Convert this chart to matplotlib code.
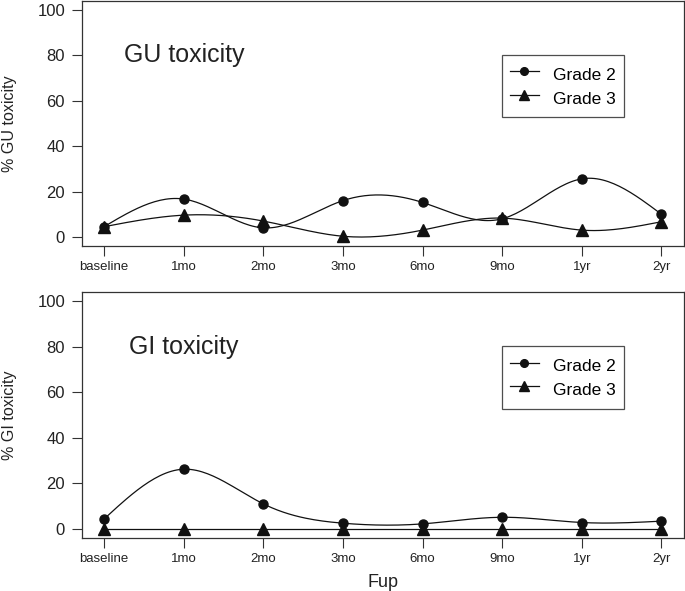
import numpy as np
import matplotlib
matplotlib.use('Agg')
import matplotlib.pyplot as plt

plt.rcParams['font.family'] = ['Liberation Sans', 'DejaVu Sans']

# 随访时间点
timepoints = ['baseline', '1mo', '2mo', '3mo', '6mo', '9mo', '1yr', '2yr']

# GU 毒性 (%)
gu_grade2 = [4.5, 16.7, 4.0, 16.0, 15.2, 8.0, 25.6, 10.0]
gu_grade3 = [4.5, 9.6, 7.0, 0.3, 3.0, 8.3, 3.0, 6.7]

# GI 毒性 (%)
gi_grade2 = [4.3, 26.2, 11.0, 2.5, 2.2, 5.1, 2.8, 3.4]
gi_grade3 = [0, 0, 0, 0, 0, 0, 0, 0]


def natural_spline(x, y, n=200):
    # 自然三次样条, 只用于画平滑曲线
    x = np.asarray(x, float)
    y = np.asarray(y, float)
    k = len(x)
    h = np.diff(x)
    A = np.zeros((k, k))
    b = np.zeros(k)
    A[0, 0] = A[-1, -1] = 1
    for i in range(1, k - 1):
        A[i, i - 1] = h[i - 1]
        A[i, i] = 2 * (h[i - 1] + h[i])
        A[i, i + 1] = h[i]
        b[i] = 6 * ((y[i + 1] - y[i]) / h[i] - (y[i] - y[i - 1]) / h[i - 1])
    m = np.linalg.solve(A, b)
    xs = np.linspace(x[0], x[-1], n)
    idx = np.clip(np.searchsorted(x, xs) - 1, 0, k - 2)
    x0, x1 = x[idx], x[idx + 1]
    hh = x1 - x0
    t0, t1 = x1 - xs, xs - x0
    ys = (m[idx] * t0 ** 3 + m[idx + 1] * t1 ** 3) / (6 * hh) \
        + (y[idx] / hh - m[idx] * hh / 6) * t0 \
        + (y[idx + 1] / hh - m[idx + 1] * hh / 6) * t1
    return xs, ys


fig = plt.figure(figsize=(6.85, 5.91), dpi=100)
ax1 = fig.add_axes([81.7 / 685, 345 / 591, 602 / 685, 245 / 591])
ax2 = fig.add_axes([81.7 / 685, 53 / 591, 602 / 685, 246 / 591])

x = np.arange(1, len(timepoints) + 1)

panels = [
    (ax1, gu_grade2, gu_grade3, 'GU toxicity', '% GU toxicity'),
    (ax2, gi_grade2, gi_grade3, 'GI toxicity', '% GI toxicity'),
]

for ax, g2, g3, title, ylab in panels:
    for vals, mk, ms, lab in [(g2, 'o', 6.5, 'Grade 2'), (g3, '^', 8.5, 'Grade 3')]:
        xs, ys = natural_spline(x, vals)
        ax.plot(xs, ys, color='#111111', lw=0.9)
        ax.plot(x, vals, linestyle='none', marker=mk, markersize=ms,
                color='#111111')
        ax.plot([], [], color='#111111', lw=0.9, marker=mk,
                markersize=ms * 0.85, label=lab)

    ax.set_xlim(0.72, 8.28)
    ax.set_ylim(-4, 104)
    ax.set_xticks(x)
    ax.set_xticklabels(timepoints, fontsize=9.5, color='#222222')
    ax.set_yticks([0, 20, 40, 60, 80, 100])
    ax.tick_params(axis='y', labelsize=12, direction='out', length=7,
                   width=0.8, pad=5, colors='#333333', labelcolor='#222222')
    ax.tick_params(axis='x', direction='out', length=7, width=0.8, pad=4,
                   colors='#333333', labelcolor='#222222')
    for sp in ax.spines.values():
        sp.set_linewidth(0.9)
        sp.set_color('#333333')

    ax.set_ylabel(ylab, fontsize=11.5, color='#222222')
    ax.yaxis.set_label_coords(-0.108, 0.5)
    ax.text(1.25 if 'GU' in title else 1.31, 80, title, fontsize=18,
            ha='left', va='center', color='#222222')

    leg = ax.legend(loc='upper left', bbox_to_anchor=(0.698, 0.78),
                    fontsize=12.5, frameon=True, fancybox=False,
                    handlelength=1.7, handletextpad=0.8, handleheight=1.7,
                    borderpad=0.45, labelspacing=0.0, borderaxespad=0)
    leg.get_frame().set_edgecolor('#222222')
    leg.get_frame().set_linewidth(0.9)

ax2.set_xlabel('Fup', fontsize=13, color='#222222', labelpad=6)

plt.savefig('out.png', dpi=100)
